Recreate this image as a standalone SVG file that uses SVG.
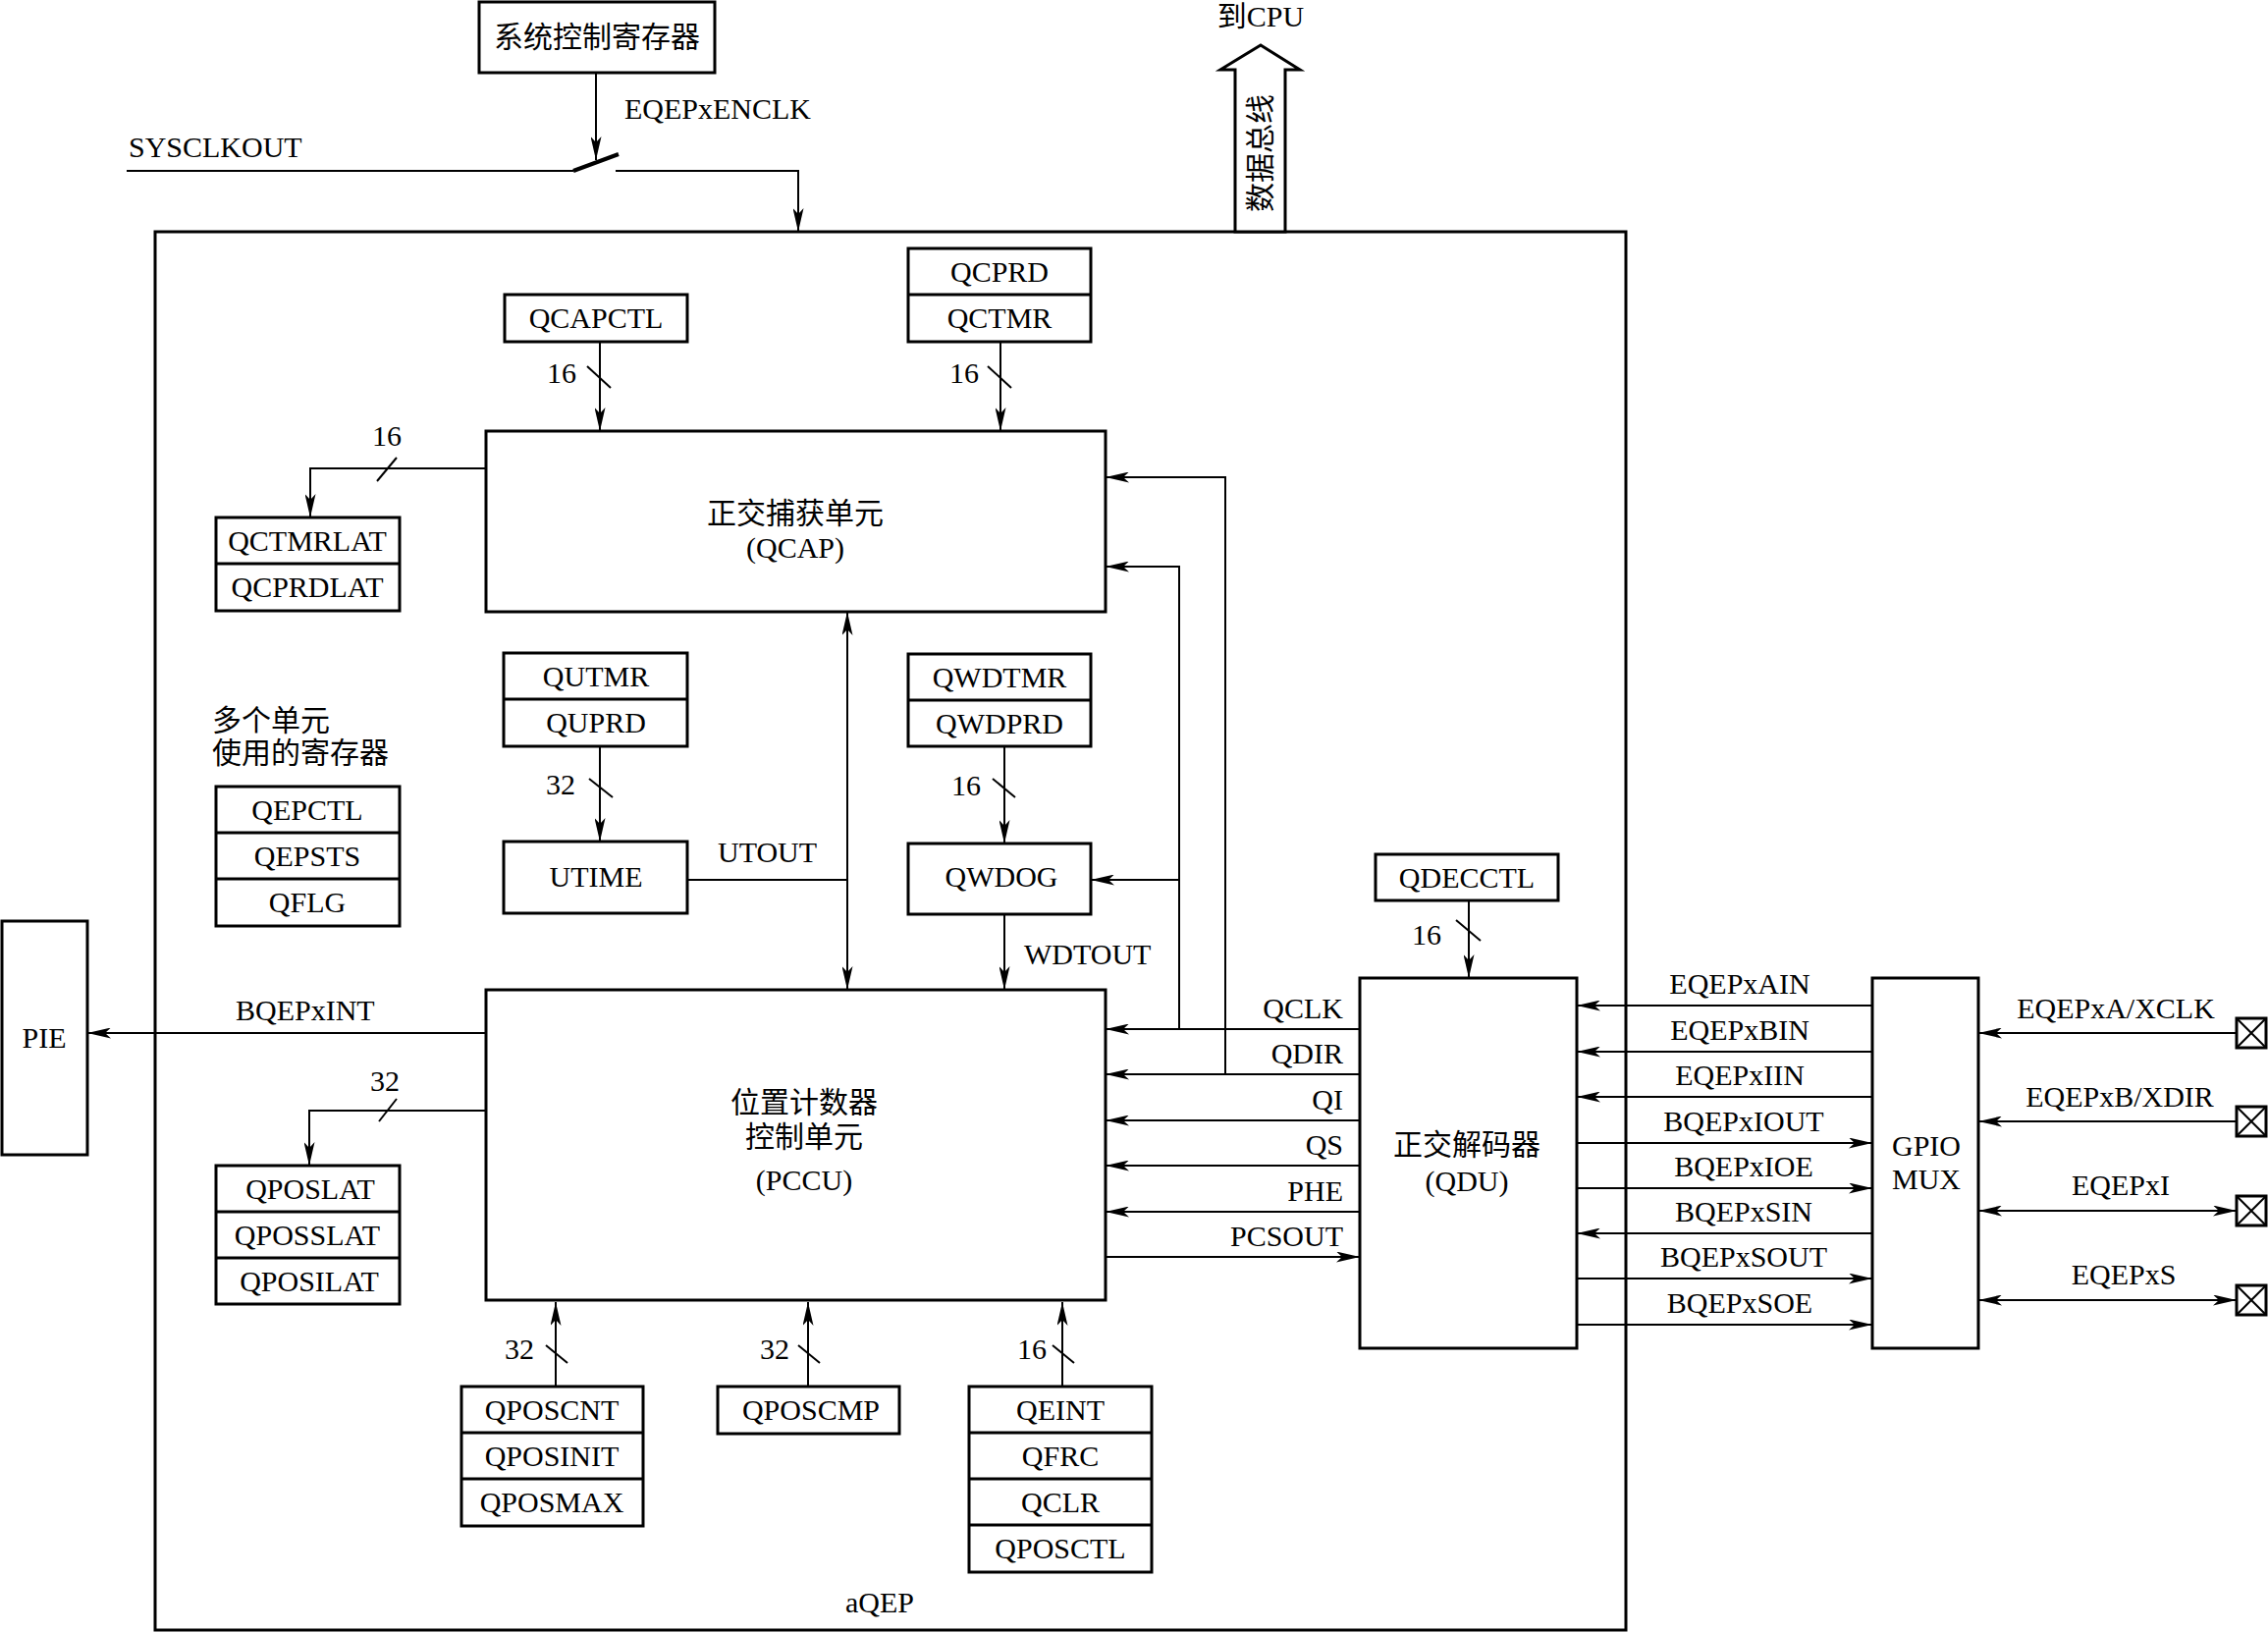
<svg xmlns="http://www.w3.org/2000/svg" width="2310" height="1663" viewBox="0 0 2310 1663">
<style>
.bx{fill:#fff;stroke:#000;stroke-width:3}
.dv{stroke:#000;stroke-width:3}
.ln{fill:none;stroke:#000;stroke-width:2}
.ar{fill:none;stroke:#000;stroke-width:2;marker-end:url(#ah)}
.da{fill:none;stroke:#000;stroke-width:2;marker-start:url(#ah);marker-end:url(#ah)}
.sl{stroke:#000;stroke-width:2}
text{font-family:"Liberation Serif","Noto Sans CJK SC",serif;font-size:30px;fill:#000}
.c{text-anchor:middle}
.r{text-anchor:end}
</style>
<defs>
<marker id="ah" viewBox="0 0 24 11" refX="24" refY="5.5" markerWidth="24" markerHeight="11" orient="auto-start-reverse" markerUnits="userSpaceOnUse">
<path d="M0,0 L24,5.5 L0,11 L6,5.5 z" fill="#000"/>
</marker>
</defs>
<rect width="2310" height="1663" fill="#fff"/>

<g id="aqep">
<rect x="158" y="236" width="1498" height="1424" fill="none" stroke="#000" stroke-width="3"/>
<text class="c" x="896" y="1642">aQEP</text>
</g>

<g id="connectors">
<line class="ar" x1="607" y1="74" x2="607" y2="163"/>
<polyline class="ln" points="129,174 584,174"/>
<line x1="584" y1="174" x2="630" y2="157" stroke="#000" stroke-width="4"/>
<polyline class="ar" points="627,174 813,174 813,236"/>
<line class="ar" x1="611" y1="348" x2="611" y2="439"/>
<line class="sl" x1="598" y1="373" x2="622" y2="395"/>
<line class="ar" x1="1019" y1="348" x2="1019" y2="439"/>
<line class="sl" x1="1006" y1="373" x2="1030" y2="395"/>
<polyline class="ar" points="495,477 316,477 316,527"/>
<line class="sl" x1="384" y1="490" x2="404" y2="466"/>
<line class="ar" x1="611" y1="760" x2="611" y2="857"/>
<line class="sl" x1="600" y1="793" x2="624" y2="812"/>
<line class="ln" x1="700" y1="896" x2="863" y2="896"/>
<line class="da" x1="863" y1="623" x2="863" y2="1008"/>
<line class="ar" x1="1023" y1="760" x2="1023" y2="859"/>
<line class="sl" x1="1011" y1="793" x2="1034" y2="812"/>
<line class="ar" x1="1023" y1="931" x2="1023" y2="1008"/>
<polyline class="ar" points="1201,1048 1201,577 1126,577"/>
<line class="ar" x1="1201" y1="896" x2="1111" y2="896"/>
<polyline class="ar" points="1248,1094 1248,486 1126,486"/>
<line class="ar" x1="495" y1="1052" x2="89" y2="1052"/>
<polyline class="ar" points="495,1131 315,1131 315,1187"/>
<line class="sl" x1="386" y1="1142" x2="404" y2="1119"/>
<line class="ar" x1="566" y1="1412" x2="566" y2="1326"/>
<line class="sl" x1="556" y1="1370" x2="578" y2="1388"/>
<line class="ar" x1="823" y1="1412" x2="823" y2="1326"/>
<line class="sl" x1="813" y1="1370" x2="835" y2="1388"/>
<line class="ar" x1="1082" y1="1412" x2="1082" y2="1326"/>
<line class="sl" x1="1072" y1="1370" x2="1094" y2="1388"/>
<line class="ar" x1="1496" y1="917" x2="1496" y2="996"/>
<line class="sl" x1="1483" y1="937" x2="1508" y2="958"/>
<line class="ar" x1="1385" y1="1048" x2="1126" y2="1048"/>
<line class="ar" x1="1385" y1="1094" x2="1126" y2="1094"/>
<line class="ar" x1="1385" y1="1141" x2="1126" y2="1141"/>
<line class="ar" x1="1385" y1="1187" x2="1126" y2="1187"/>
<line class="ar" x1="1385" y1="1234" x2="1126" y2="1234"/>
<line class="ar" x1="1126" y1="1280" x2="1385" y2="1280"/>
<line class="ar" x1="1907" y1="1024" x2="1606" y2="1024"/>
<line class="ar" x1="1907" y1="1071" x2="1606" y2="1071"/>
<line class="ar" x1="1907" y1="1117" x2="1606" y2="1117"/>
<line class="ar" x1="1606" y1="1164" x2="1907" y2="1164"/>
<line class="ar" x1="1606" y1="1210" x2="1907" y2="1210"/>
<line class="ar" x1="1907" y1="1256" x2="1606" y2="1256"/>
<line class="ar" x1="1606" y1="1302" x2="1907" y2="1302"/>
<line class="ar" x1="1606" y1="1349" x2="1907" y2="1349"/>
<line class="ar" x1="2278" y1="1052" x2="2015" y2="1052"/>
<line class="ar" x1="2278" y1="1142" x2="2015" y2="1142"/>
<line class="da" x1="2015" y1="1233" x2="2278" y2="1233"/>
<line class="da" x1="2015" y1="1324" x2="2278" y2="1324"/>
</g>

<g id="labels">
<text x="636" y="121">EQEPxENCLK</text>
<text x="131" y="160">SYSCLKOUT</text>
<text class="r" x="587" y="390">16</text>
<text class="r" x="997" y="390">16</text>
<text class="c" x="394" y="454">16</text>
<text class="r" x="586" y="809">32</text>
<text x="731" y="878">UTOUT</text>
<text class="r" x="999" y="810">16</text>
<text x="1043" y="982">WDTOUT</text>
<text x="240" y="1039">BQEPxINT</text>
<text class="c" x="392" y="1111">32</text>
<text class="r" x="544" y="1384">32</text>
<text class="r" x="804" y="1384">32</text>
<text class="r" x="1066" y="1384">16</text>
<text class="r" x="1468" y="962">16</text>
<text class="r" x="1368" y="1037">QCLK</text>
<text class="r" x="1368" y="1083">QDIR</text>
<text class="r" x="1368" y="1130">QI</text>
<text class="r" x="1368" y="1176">QS</text>
<text class="r" x="1368" y="1223">PHE</text>
<text class="r" x="1368" y="1269">PCSOUT</text>
<text class="c" x="1772" y="1012">EQEPxAIN</text>
<text class="c" x="1772" y="1059">EQEPxBIN</text>
<text class="c" x="1772" y="1105">EQEPxIIN</text>
<text class="c" x="1776" y="1152">BQEPxIOUT</text>
<text class="c" x="1776" y="1198">BQEPxIOE</text>
<text class="c" x="1776" y="1244">BQEPxSIN</text>
<text class="c" x="1776" y="1290">BQEPxSOUT</text>
<text class="c" x="1772" y="1337">BQEPxSOE</text>
<text class="c" x="2155" y="1037">EQEPxA/XCLK</text>
<text class="c" x="2159" y="1127">EQEPxB/XDIR</text>
<text class="c" x="2160" y="1217">EQEPxI</text>
<text class="c" x="2163" y="1308">EQEPxS</text>
<text x="216" y="744">多个单元</text>
<text x="216" y="777">使用的寄存器</text>
</g>

<g id="sysreg">
<rect class="bx" x="488" y="2" width="240" height="72"/>
<text class="c" x="608" y="48">系统控制寄存器</text>
</g>

<g id="databus">
<polygon points="1258,236 1258,71 1243,71 1284,46 1324,71 1309,71 1309,236" fill="#fff" stroke="#000" stroke-width="3"/>
<text class="c" x="1284" y="27">到CPU</text>
<text class="c" transform="translate(1294,156) rotate(-90)" x="0" y="0">数据总线</text>
</g>

<g id="qcprd">
<rect class="bx" x="925" y="253" width="186" height="95"/>
<line class="dv" x1="925" y1="300" x2="1111" y2="300"/>
<text class="c" x="1018" y="287">QCPRD</text>
<text class="c" x="1018" y="334">QCTMR</text>
</g>

<g id="qcapctl">
<rect class="bx" x="514" y="300" width="186" height="48"/>
<text class="c" x="607" y="334">QCAPCTL</text>
</g>

<g id="qcap">
<rect class="bx" x="495" y="439" width="631" height="184"/>
<text class="c" x="810" y="533">正交捕获单元</text>
<text class="c" x="810" y="568">(QCAP)</text>
</g>

<g id="qctmrlat">
<rect class="bx" x="220" y="527" width="187" height="95"/>
<line class="dv" x1="220" y1="574" x2="407" y2="574"/>
<text class="c" x="313" y="561">QCTMRLAT</text>
<text class="c" x="313" y="608">QCPRDLAT</text>
</g>

<g id="qutmr">
<rect class="bx" x="513" y="665" width="187" height="95"/>
<line class="dv" x1="513" y1="712" x2="700" y2="712"/>
<text class="c" x="607" y="699">QUTMR</text>
<text class="c" x="607" y="746">QUPRD</text>
</g>

<g id="utime">
<rect class="bx" x="513" y="857" width="187" height="73"/>
<text class="c" x="607" y="903">UTIME</text>
</g>

<g id="qepctl">
<rect class="bx" x="220" y="801" width="187" height="142"/>
<line class="dv" x1="220" y1="848" x2="407" y2="848"/>
<line class="dv" x1="220" y1="895" x2="407" y2="895"/>
<text class="c" x="313" y="835">QEPCTL</text>
<text class="c" x="313" y="882">QEPSTS</text>
<text class="c" x="313" y="929">QFLG</text>
</g>

<g id="qwdtmr">
<rect class="bx" x="925" y="666" width="186" height="94"/>
<line class="dv" x1="925" y1="713" x2="1111" y2="713"/>
<text class="c" x="1018" y="700">QWDTMR</text>
<text class="c" x="1018" y="747">QWDPRD</text>
</g>

<g id="qwdog">
<rect class="bx" x="925" y="859" width="186" height="72"/>
<text class="c" x="1020" y="903">QWDOG</text>
</g>

<g id="pccu">
<rect class="bx" x="495" y="1008" width="631" height="316"/>
<text class="c" x="819" y="1133">位置计数器</text>
<text class="c" x="819" y="1168">控制单元</text>
<text class="c" x="819" y="1212">(PCCU)</text>
</g>

<g id="pie">
<rect class="bx" x="2" y="938" width="87" height="238"/>
<text class="c" x="45" y="1067">PIE</text>
</g>

<g id="qposlat">
<rect class="bx" x="220" y="1187" width="187" height="141"/>
<line class="dv" x1="220" y1="1234" x2="407" y2="1234"/>
<line class="dv" x1="220" y1="1281" x2="407" y2="1281"/>
<text class="c" x="316" y="1221">QPOSLAT</text>
<text class="c" x="313" y="1268">QPOSSLAT</text>
<text class="c" x="315" y="1315">QPOSILAT</text>
</g>

<g id="qposcnt">
<rect class="bx" x="470" y="1412" width="185" height="142"/>
<line class="dv" x1="470" y1="1459" x2="655" y2="1459"/>
<line class="dv" x1="470" y1="1506" x2="655" y2="1506"/>
<text class="c" x="562" y="1446">QPOSCNT</text>
<text class="c" x="562" y="1493">QPOSINIT</text>
<text class="c" x="562" y="1540">QPOSMAX</text>
</g>

<g id="qposcmp">
<rect class="bx" x="731" y="1412" width="185" height="48"/>
<text class="c" x="826" y="1446">QPOSCMP</text>
</g>

<g id="qeint">
<rect class="bx" x="987" y="1412" width="186" height="189"/>
<line class="dv" x1="987" y1="1459" x2="1173" y2="1459"/>
<line class="dv" x1="987" y1="1506" x2="1173" y2="1506"/>
<line class="dv" x1="987" y1="1553" x2="1173" y2="1553"/>
<text class="c" x="1080" y="1446">QEINT</text>
<text class="c" x="1080" y="1493">QFRC</text>
<text class="c" x="1080" y="1540">QCLR</text>
<text class="c" x="1080" y="1587">QPOSCTL</text>
</g>

<g id="qdecctl">
<rect class="bx" x="1401" y="870" width="186" height="47"/>
<text class="c" x="1494" y="904">QDECCTL</text>
</g>

<g id="qdu">
<rect class="bx" x="1385" y="996" width="221" height="377"/>
<text class="c" x="1494" y="1176">正交解码器</text>
<text class="c" x="1494" y="1213">(QDU)</text>
</g>

<g id="gpiomux">
<rect class="bx" x="1907" y="996" width="108" height="377"/>
<text class="c" x="1962" y="1177">GPIO</text>
<text class="c" x="1962" y="1211">MUX</text>
</g>

<g id="pin1">
<rect class="bx" x="2278" y="1037" width="30" height="30"/>
<path class="ln" d="M2278,1037 L2308,1067 M2308,1037 L2278,1067"/>
</g>
<g id="pin2">
<rect class="bx" x="2278" y="1127" width="30" height="30"/>
<path class="ln" d="M2278,1127 L2308,1157 M2308,1127 L2278,1157"/>
</g>
<g id="pin3">
<rect class="bx" x="2278" y="1218" width="30" height="30"/>
<path class="ln" d="M2278,1218 L2308,1248 M2308,1218 L2278,1248"/>
</g>
<g id="pin4">
<rect class="bx" x="2278" y="1309" width="30" height="30"/>
<path class="ln" d="M2278,1309 L2308,1339 M2308,1309 L2278,1339"/>
</g>
</svg>
